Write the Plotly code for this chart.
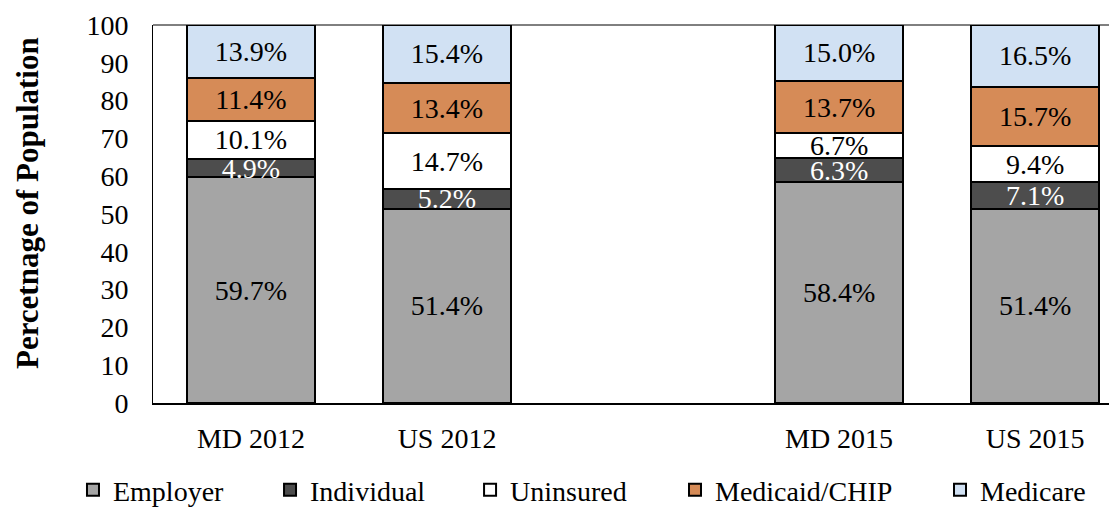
import plotly.graph_objects as go

categories = ["MD 2012", "US 2012", " ", "MD 2015", "US 2015"]
bar_cats = ["MD 2012", "US 2012", "MD 2015", "US 2015"]
series_names = ["Employer", "Individual", "Uninsured", "Medicaid/CHIP", "Medicare"]
employer = [59.7, 51.4, 58.4, 51.4]
individual = [4.9, 5.2, 6.3, 7.1]
uninsured = [10.1, 14.7, 6.7, 9.4]
medicaid = [11.4, 13.4, 13.7, 15.7]
medicare = [13.9, 15.4, 15.0, 16.5]
y_ticks = [0, 10, 20, 30, 40, 50, 60, 70, 80, 90, 100]

values = [employer, individual, uninsured, medicaid, medicare]
colors = ["#A5A5A5", "#4D4D4D", "#FFFFFF", "#D68B57", "#D1E1F3"]
text_colors = ["black", "white", "black", "black", "black"]
legend_x = [-0.083, 0.1214, 0.3289, 0.5415, 0.8164]

FONT = "Liberation Serif"
FS = 28

fig = go.Figure()
legend_ids = ["legend"] + [f"legend{i}" for i in range(2, 6)]
for name, vals, col, tcol, lid in zip(series_names, values, colors, text_colors, legend_ids):
    fig.add_trace(go.Bar(
        x=bar_cats, y=vals, name=name, legend=lid,
        marker=dict(color=col, line=dict(color="black", width=2)),
        texttemplate="%{y:.1f}%", textposition="inside",
        insidetextanchor="middle", constraintext="none",
        textfont=dict(family=FONT, size=FS, color=tcol),
        hoverinfo="skip",
    ))

legend_layouts = {}
for lid, lx in zip(legend_ids, legend_x):
    legend_layouts[lid] = dict(orientation="h", xref="paper", yref="paper",
                               x=lx, y=-0.230, xanchor="left", yanchor="middle",
                               bgcolor="rgba(0,0,0,0)",
                               font=dict(family=FONT, size=FS))

# page body has an 8px margin: figure is shifted by 8px, so size it to fit
fig.update_layout(
    barmode="stack", bargap=0.347,
    width=1109, height=500,
    margin=dict(l=145, r=0, t=17, b=105, autoexpand=False),
    plot_bgcolor="white", paper_bgcolor="white",
    font=dict(family=FONT, size=FS, color="black"),
    showlegend=True,
    xaxis=dict(type="category", categoryorder="array", categoryarray=categories,
               range=[-0.5, 4.418], showline=True, linecolor="black", linewidth=2,
               ticks="", showgrid=False, ticklabelstandoff=9, automargin=False,
               tickfont=dict(family=FONT, size=FS)),
    yaxis=dict(range=[0, 100], tickvals=y_ticks, showline=True, linecolor="black",
               linewidth=1, ticks="", showgrid=False, zeroline=False, automargin=False,
               ticklabelstandoff=18, tickfont=dict(family=FONT, size=FS)),
    annotations=[dict(text="<b>Percetnage of Population</b>", textangle=-90,
                      xref="paper", yref="paper", x=-0.1307, y=0.529,
                      xanchor="center", yanchor="middle", showarrow=False,
                      font=dict(family=FONT, size=31, color="black"))],
    shapes=[dict(type="line", xref="paper", yref="paper", x0=0, x1=1, y0=1, y1=1,
                 line=dict(color="black", width=1))],
    **legend_layouts,
)

fig.write_html("out.html")
